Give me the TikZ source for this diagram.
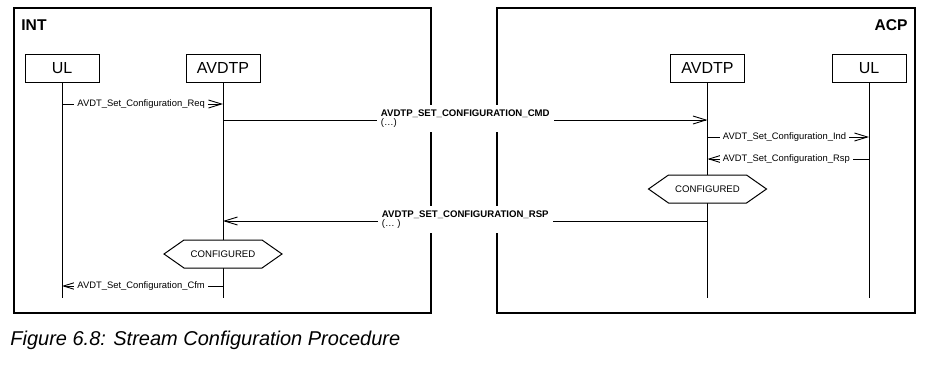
\documentclass[tikz,border=0pt]{standalone}
\usepackage{fontspec}
\setmainfont{Liberation Sans}
\usetikzlibrary{arrows.meta,shapes.symbols,positioning}

\begin{document}
\begin{tikzpicture}[x=0.5pt, y=-0.5pt,
    frame/.style={line width=0.8pt},
    entity/.style={draw, line width=0.5pt, minimum width=37pt, minimum height=14pt, inner sep=0pt, font=\fontsize{8}{9}\selectfont},
    lifeline/.style={line width=0.5pt},
    msg/.style={line width=0.45pt, -{Straight Barb[length=6.5pt,width=4pt]}},
    msglbl/.style={fill=white, inner xsep=1.5pt, inner ysep=0.5pt, font=\fontsize{4.7}{5}\selectfont},
    pdulbl/.style={fill=white, align=left, inner xsep=2pt, inner ysep=2.2pt, font=\fontsize{4.8}{4.6}\selectfont},
    state/.style={draw, fill=white, line width=0.5pt, shape=signal, signal to=west and east, signal pointer angle=70, minimum width=59pt, minimum height=14pt, inner sep=0pt, font=\fontsize{4.8}{5}\selectfont}]
        \useasboundingbox (0,0) rectangle (925,365);

        % Frames
        \draw[frame] (14,8) rectangle (431,313);
        \draw[frame] (497,8) rectangle (915,313);
        \node[font=\bfseries\fontsize{7.8}{9}\selectfont, anchor=base west, inner sep=0pt] (int) at (21,30) {INT};
        \node[font=\bfseries\fontsize{7.8}{9}\selectfont, anchor=base east, inner sep=0pt] (acp) at (908,30) {ACP};

        % Entities
        \node[entity] (ulI) at (62,68) {UL};
        \node[entity] (avdtpI) at (223,68) {AVDTP};
        \node[entity] (avdtpA) at (707.5,68) {AVDTP};
        \node[entity] (ulA) at (869,68) {UL};

        % Rows
        \coordinate (bottom) at (0,298);
        \coordinate (rReq) at (0,104);
        \coordinate (rCmd) at (0,120);
        \coordinate (rInd) at (0,137);
        \coordinate (rRsp) at (0,159);
        \coordinate (rCfgA) at (0,189);
        \coordinate (rRspPdu) at (0,221);
        \coordinate (rCfgI) at (0,254);
        \coordinate (rCfm) at (0,286);

        % Lifelines
        \foreach \e in {ulI,avdtpI,avdtpA,ulA}
            \draw[lifeline] (\e.south) -- (\e |- bottom);

        % Messages
        \draw[msg] (ulI |- rReq) -- node[msglbl, pos=0, anchor=west, xshift=6pt] (lReq) {AVDT\_Set\_Configuration\_Req} (avdtpI |- rReq);
        \draw[msg] (avdtpI |- rCmd) -- node[pdulbl, yshift=0.75pt] (lCmd) {\textbf{AVDTP\_SET\_CONFIGURATION\_CMD}\\(\ldots)} (avdtpA |- rCmd);
        \draw[msg] (avdtpA |- rInd) -- node[msglbl, pos=0, anchor=west, xshift=6pt] (lInd) {AVDT\_Set\_Configuration\_Ind} (ulA |- rInd);
        \draw[msg] (ulA |- rRsp) -- node[msglbl, pos=1, anchor=west, xshift=6pt] (lRsp) {AVDT\_Set\_Configuration\_Rsp} (avdtpA |- rRsp);
        \draw[msg] (avdtpA |- rRspPdu) -- node[pdulbl, yshift=0.75pt] (lRspPdu) {\textbf{AVDTP\_SET\_CONFIGURATION\_RSP}\\(\ldots\ )} (avdtpI |- rRspPdu);
        \draw[msg] (avdtpI |- rCfm) -- node[msglbl, pos=1, anchor=west, xshift=6pt] (lCfm) {AVDT\_Set\_Configuration\_Cfm} (ulI |- rCfm);

        % States
        \node[state] (cfgA) at (avdtpA |- rCfgA) {CONFIGURED};
        \node[state] (cfgI) at (avdtpI |- rCfgI) {CONFIGURED};

        % Caption
        \node[anchor=base west, inner sep=0pt, font=\itshape\fontsize{10}{12}\selectfont] (caption) at (10,345) {Figure 6.8: Stream Configuration Procedure};
\end{tikzpicture}
\end{document}
